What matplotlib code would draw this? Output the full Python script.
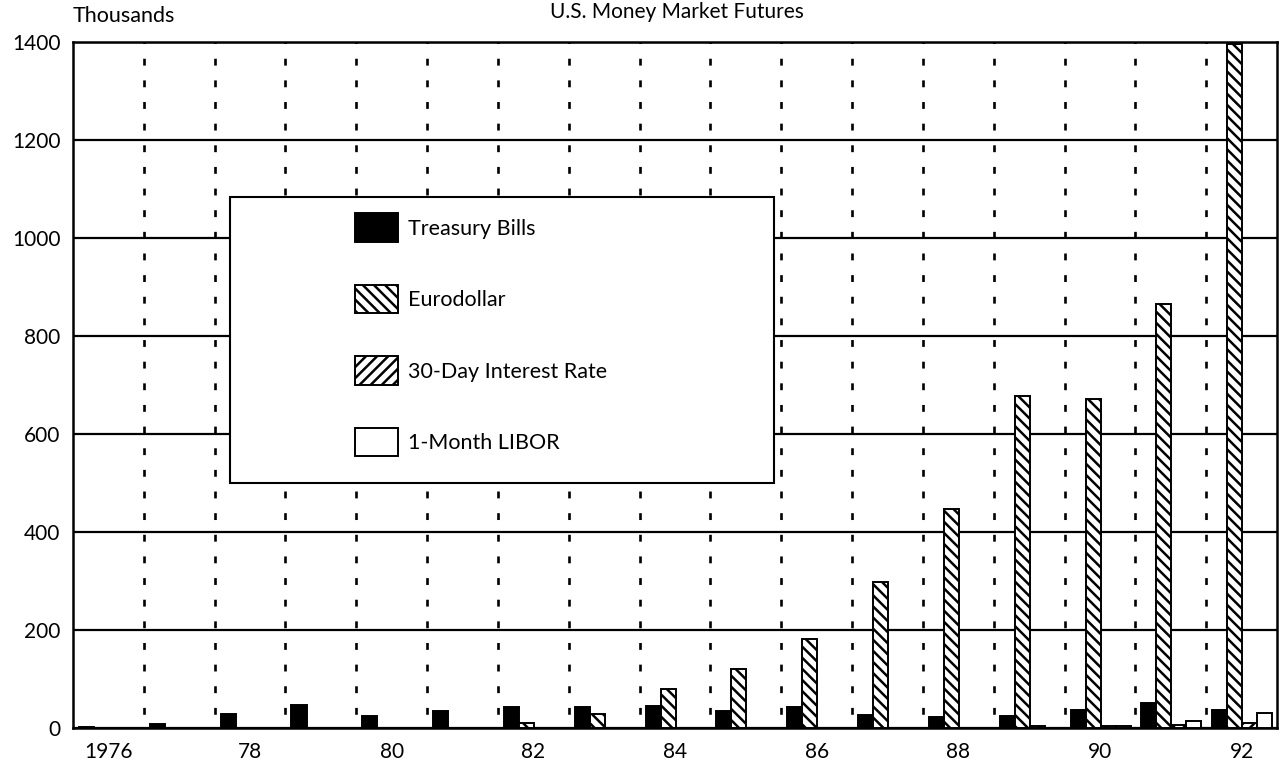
import numpy as np
import matplotlib
matplotlib.use('Agg')
import matplotlib.pyplot as plt
from matplotlib.patches import Patch, Rectangle

plt.rcParams['font.family'] = ['Lato', 'DejaVu Sans']
plt.rcParams['hatch.linewidth'] = 1.8

# Data (thousands of contracts)
years = np.arange(1976, 1993)
tick_years = [1976, 1978, 1980, 1982, 1984, 1986, 1988, 1990, 1992]
tick_labels = ['1976', '78', '80', '82', '84', '86', '88', '90', '92']

treasury_bills = [2, 9, 29, 47, 25, 35, 43, 43, 45, 35, 43, 27, 22, 25, 37, 51, 37]
eurodollar = [0, 0, 0, 0, 0, 0, 11, 29, 80, 120, 182, 298, 447, 677, 671, 866, 1396]
thirty_day = [0, 0, 0, 0, 0, 0, 0, 0, 0, 0, 0, 0, 1, 4, 5, 6, 10]
libor_1m = [0, 0, 0, 0, 0, 0, 0, 0, 0, 0, 0, 0, 0, 0, 5, 15, 31]

series = [
    ('Treasury Bills', treasury_bills, 'black', None),
    ('Eurodollar', eurodollar, 'white', '\\\\\\'),
    ('30-Day Interest Rate', thirty_day, 'white', '///'),
    ('1-Month LIBOR', libor_1m, 'white', None),
]

W, H = 1281, 766
fig = plt.figure(figsize=(W / 100, H / 100), dpi=100)
ax = fig.add_axes([73 / W, 1 - 728 / H, (1277 - 73) / W, (728 - 42) / H])

bar_w = 0.212
first_off = -0.5 + 0.085 + bar_w / 2
for i, (name, vals, fc, hatch) in enumerate(series):
    ax.bar(years + first_off + i * bar_w, vals, width=bar_w, color=fc,
           edgecolor='black', linewidth=1.4, hatch=hatch, zorder=3)

# dotted separators between the years
for yr in years[:-1]:
    ax.axvline(yr + 0.5, color='black', lw=1.9, linestyle=(3, (2.6, 5.6)), zorder=1)

ax.set_xlim(1975.5, 1992.5)
ax.set_ylim(0, 1400)
ax.set_yticks(range(0, 1401, 200))
ax.set_xticks(tick_years)
ax.set_xticklabels(tick_labels)
ax.yaxis.grid(True, color='black', lw=1.6)
ax.set_axisbelow(True)
ax.tick_params(length=0, labelsize=15)
ax.tick_params(axis='y', pad=9)
ax.tick_params(axis='x', pad=10)
for sp in ax.spines.values():
    sp.set_linewidth(1.8)
    sp.set_color('black')

# legend box with the entries inside
ax.add_patch(Rectangle((0.1304, 0.357), 0.452, 0.417, transform=ax.transAxes,
                       facecolor='white', edgecolor='black', lw=1.5, zorder=4))
handles = [Patch(facecolor=fc, edgecolor='black', hatch=h, lw=1.4) for _, _, fc, h in series]
ax.legend(handles, [s[0] for s in series], loc='upper left',
          bbox_to_anchor=(0.2342, 0.750), frameon=False, fontsize=15.5,
          handlelength=2.0, handleheight=1.65, labelspacing=2.0,
          handletextpad=0.45, borderpad=0, borderaxespad=0).set_zorder(5)

fig.text(677 / W, 1 - 12 / H, 'U.S. Money Market Futures', ha='center', va='center', fontsize=15)
fig.text(73 / W, 1 - 16 / H, 'Thousands', ha='left', va='center', fontsize=15.5)

fig.savefig('out.png', dpi=100)
